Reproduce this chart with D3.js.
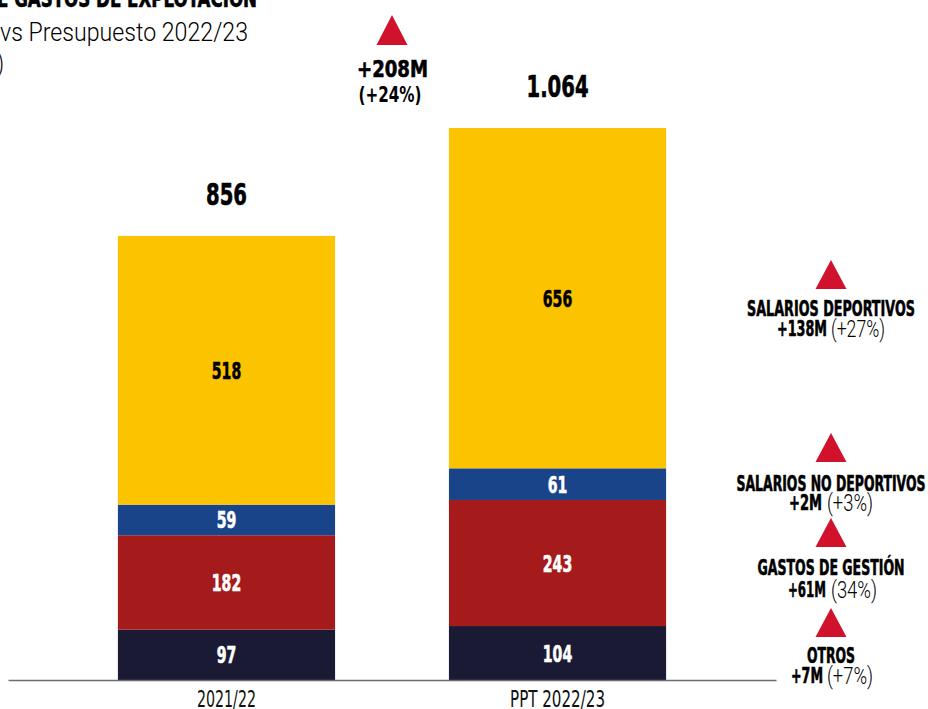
<!DOCTYPE html>
<html><head><meta charset="utf-8">
<script src="https://cdn.jsdelivr.net/npm/d3@7"></script>
<style>
body{margin:0;background:#fff;}
svg{display:block;}
text{font-family:"DejaVu Sans",sans-serif;font-stretch:condensed;}
.hv{font-weight:bold;stroke-width:0.6;paint-order:stroke;}
.lt{font-family:"Roboto","DejaVu Sans",sans-serif;font-weight:300;font-stretch:normal;}
</style></head>
<body><svg id="c" width="928" height="709"></svg>
<script>
const categories = ["2021/22", "PPT 2022/23"];
const seriesNames = ["Otros", "Gastos de gestión", "Salarios no deportivos", "Salarios deportivos"];
const otros = [97, 104];
const gastosGestion = [182, 243];
const salariosNoDep = [59, 61];
const salariosDep = [518, 656];
const totalLabels = ["856", "1.064"];
const colors = ["#1b1a35", "#a51b1b", "#1a4489", "#fcc400"];
const labelColors = ["#fff", "#fff", "#fff", "#000"];
const changeNames = ["SALARIOS DEPORTIVOS", "SALARIOS NO DEPORTIVOS", "GASTOS DE GESTIÓN", "OTROS"];
const changeAbs = ["+138M", "+2M", "+61M", "+7M"];
const changePct = ["(+27%)", "(+3%)", "(34%)", "(+7%)"];
const totalChange = ["+208M", "(+24%)"];

const svg = d3.select("#c");
const baseY = 680;
const x = d3.scaleBand().domain(categories).range([8, 776]).paddingInner(0.344).paddingOuter(0.332);
const y = d3.scaleLinear().domain([0, 1064]).range([baseY, 128]);

function txt(parent, px, py, s, size, w, anchor, cls) {
  const t = parent.append("text").attr("x", px).attr("y", py)
    .attr("font-size", size).attr("text-anchor", anchor || "middle").text(s);
  if (cls) t.attr("class", cls);
  if (w) t.attr("textLength", w).attr("lengthAdjust", "spacingAndGlyphs");
  return t;
}

const rows = categories.map((c, i) => ({cat: c, v: [otros[i], gastosGestion[i], salariosNoDep[i], salariosDep[i]]}));
const stack = d3.stack().keys([0,1,2,3]).value((d, k) => d.v[k]);
const layers = stack(rows);

const g = svg.append("g");
layers.forEach((layer, k) => {
  g.selectAll(null).data(layer).enter().append("rect")
    .attr("x", d => x(d.data.cat))
    .attr("width", x.bandwidth())
    .attr("y", d => y(d[1]))
    .attr("height", d => y(d[0]) - y(d[1]))
    .attr("fill", colors[k]);
  layer.forEach(d => {
    const s = String(d.data.v[k]);
    txt(g, x(d.data.cat) + x.bandwidth()/2, (y(d[0]) + y(d[1]))/2 + 8.5, s, 23, s.length * 9.8, "middle", "hv")
      .attr("fill", labelColors[k]).attr("stroke", labelColors[k]);
  });
});

// totals
const totals = rows.map(r => d3.sum(r.v));
categories.forEach((c, i) => {
  const s = totalLabels[i];
  txt(svg, x(c) + x.bandwidth()/2, y(totals[i]) - 31, s, 31, s.length === 3 ? 41 : 62, "middle", "hv")
    .attr("fill", "#000").attr("stroke", "#000");
});

// axis
const ax = svg.append("g").attr("transform", `translate(0,${baseY})`)
  .call(d3.axisBottom(x).tickSize(0).tickSizeOuter(0));
ax.select(".domain").attr("stroke", "#6e6e6e").attr("stroke-width", 1.5);
ax.selectAll(".tick text").attr("font-size", 23).attr("fill", "#111")
  .attr("y", 26.5).attr("dy", 0)
  .attr("textLength", d => d.length === 7 ? 59 : 95)
  .attr("lengthAdjust", "spacingAndGlyphs");

function tri(cx, top, w, h) {
  svg.append("path")
    .attr("d", `M${cx},${top} L${cx + w/2},${top + h} L${cx - w/2},${top + h} Z`)
    .attr("fill", "#d0122c");
}

// total change annotation
tri(392, 15, 31, 30);
txt(svg, 392.5, 77, totalChange[0], 23, 71, "middle", "hv").attr("stroke", "#000");
txt(svg, 390, 102, totalChange[1], 21, 63).attr("font-weight", "bold");

// right annotations
const annTri = [260, 433, 518, 608];
const annName = [316, 491, 575, 663];
const annVal = [336, 510, 597, 683];
const nameW = [168, 189, 147, 48];
const absX = [[777, 827], [789, 822], [788, 826], [791, 823]];
const pctX = [[831, 885], [827, 873], [831, 877], [827, 873]];
changeNames.forEach((n, i) => {
  tri(831, annTri[i], 31, 29);
  txt(svg, 831, annName[i], n, 22, nameW[i], "middle", "hv").attr("stroke", "#000");
  const t = svg.append("text").attr("x", absX[i][0]).attr("y", annVal[i]).attr("text-anchor", "start");
  t.append("tspan").attr("class", "hv").attr("stroke", "#000").attr("font-size", 22)
    .attr("textLength", absX[i][1] - absX[i][0]).attr("lengthAdjust", "spacingAndGlyphs")
    .text(changeAbs[i]);
  t.append("tspan").attr("class", "lt").attr("fill", "#000").attr("font-size", 24)
    .attr("x", pctX[i][0]).attr("dy", 1)
    .attr("textLength", pctX[i][1] - pctX[i][0]).attr("lengthAdjust", "spacingAndGlyphs")
    .text(changePct[i]);
});

// title block (cropped at left/top)
const t1 = svg.append("text").attr("x", -113).attr("y", 7).attr("font-size", 24).attr("class", "hv").attr("stroke", "#000");
t1.append("tspan").attr("textLength", 108).attr("lengthAdjust", "spacingAndGlyphs").text("EVOLUCIÓN D");
t1.append("tspan").attr("x", -3).attr("textLength", 260).attr("lengthAdjust", "spacingAndGlyphs").text("E GASTOS DE EXPLOTACIÓN");
const t2 = svg.append("text").attr("x", -86).attr("y", 41).attr("font-size", 26).attr("class", "lt").attr("fill", "#000");
t2.append("tspan").attr("textLength", 78).attr("lengthAdjust", "spacingAndGlyphs").text("2021/22 ");
t2.append("tspan").attr("x", 0).attr("textLength", 248).attr("lengthAdjust", "spacingAndGlyphs").text("vs Presupuesto 2022/23");
txt(svg, 4, 72, "(millones de euros)", 26, 180, "end", "lt").attr("fill", "#000");
</script></body></html>
